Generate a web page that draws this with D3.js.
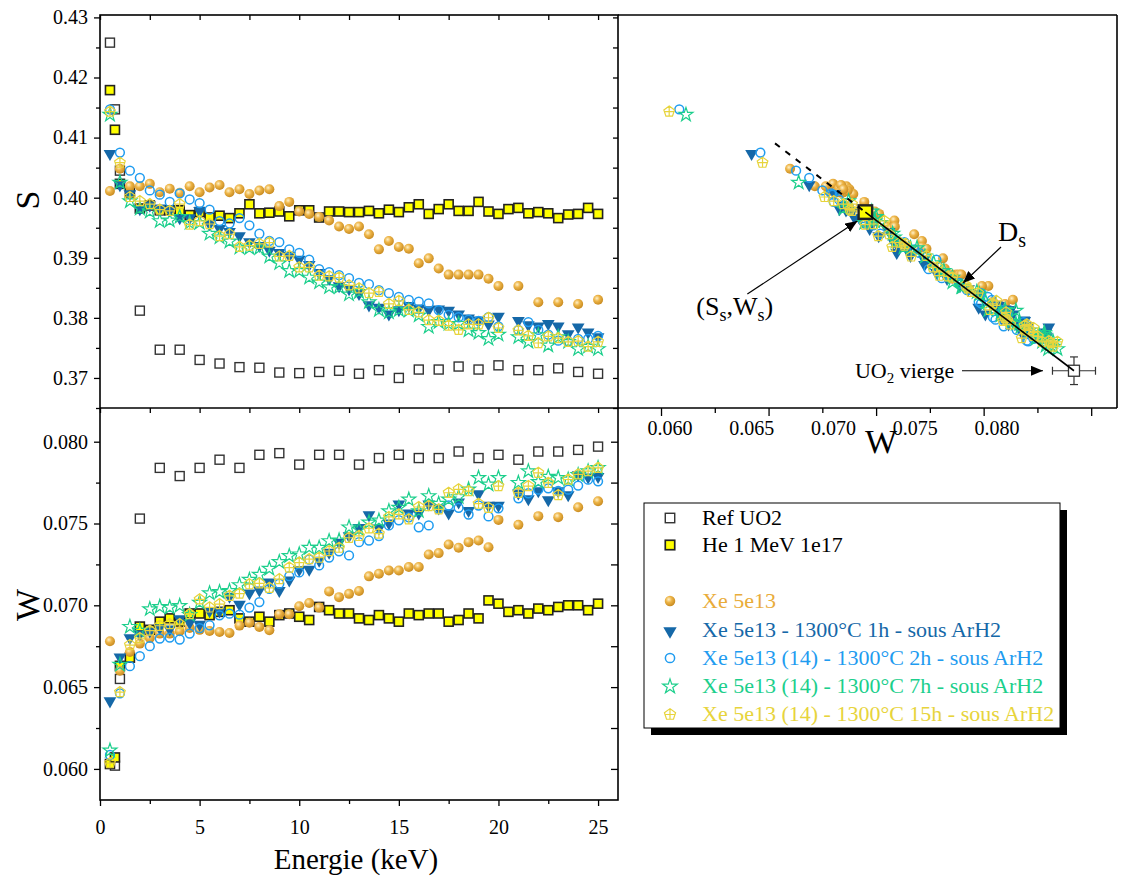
<!DOCTYPE html>
<html><head><meta charset="utf-8">
<script src="https://cdn.jsdelivr.net/npm/d3@7"></script>
<style>body{margin:0;background:#fff}svg{display:block}text{font-family:"Liberation Serif","Times New Roman",serif}</style>
</head><body><svg id="c" width="1133" height="881"></svg>
<script>
// ---------- DATA ----------
const refE=[0.5,0.75,1,2,3,4,5,6,7,8,9,10,11,12,13,14,15,16,17,18,19,20,21,22,23,24,25];
const refS=[0.4258,0.4147,0.4045,0.3812,0.3747,0.3747,0.3730,0.3724,0.3718,0.3717,0.3709,0.3708,0.3710,0.3712,0.3707,0.3713,0.3700,0.3714,0.3714,0.3719,0.3714,0.3721,0.3713,0.3713,0.3716,0.3710,0.3707];
const refW=[null,0.0602,0.0655,0.0753,0.0784,0.0779,0.0784,0.0789,0.0784,0.0792,0.0793,0.0786,0.0792,0.0792,0.0786,0.0790,0.0792,0.0790,0.0790,0.0794,0.0790,0.0792,0.0789,0.0794,0.0794,0.0795,0.0797];

const heE=[0.5,0.75,1,1.5,2,2.5,3,3.5,4,4.5,5,5.5,6,6.5,7,7.5,8,8.5,9,9.5,10,10.5,11,11.5,12,12.5,13,13.5,14,14.5,15,15.5,16,16.5,17,17.5,18,18.5,19,19.5,20,20.5,21,21.5,22,22.5,23,23.5,24,24.5,25];
const heS=[0.4179,0.4113,0.4023,0.4008,0.3982,0.3987,0.3979,0.3979,0.3979,0.3971,0.3976,0.3967,0.3970,0.3966,0.3974,0.3989,0.3974,0.3975,0.3977,0.3969,0.3979,0.3979,0.3967,0.3977,0.3977,0.3976,0.3976,0.3978,0.3974,0.3980,0.3976,0.3984,0.3989,0.3973,0.3981,0.3989,0.3978,0.3978,0.3993,0.3977,0.3973,0.3981,0.3983,0.3974,0.3976,0.3974,0.3966,0.3972,0.3973,0.3983,0.3973];
const heW=[0.0603,0.0607,0.0663,0.0668,0.0687,0.0685,0.0690,0.0692,0.0690,0.0695,0.0695,0.0694,0.0696,0.0697,0.0692,0.0690,0.0693,0.0690,0.0694,0.0695,0.0693,0.0691,0.0699,0.0697,0.0695,0.0695,0.0692,0.0691,0.0694,0.0692,0.0690,0.0695,0.0694,0.0695,0.0695,0.0690,0.0691,0.0695,0.0692,0.0703,0.0701,0.0696,0.0697,0.0695,0.0698,0.0697,0.0699,0.0700,0.0700,0.0697,0.0701];

const xeE=[0.5,1,1.5,2,2.5,3,3.5,4,4.5,5,5.5,6,6.5,7,7.5,8,8.5,9,9.5,10,10.5,11,11.5,12,12.5,13,13.5,14,14.5,15,15.5,16,16.5,17,17.5,18,18.5,19,19.5,20,20.5,21,21.5,22,22.5,23,23.5,24,24.5,25];
const xeS=[0.4011,0.4048,0.4019,0.4019,0.4023,0.4009,0.4015,0.4008,0.4019,0.4009,0.4017,0.4021,0.4009,0.4014,0.4006,0.4012,0.4014,0.3986,0.3993,0.3977,0.3973,0.3968,0.3962,0.3952,0.3948,0.3952,0.3939,0.3914,0.3928,0.3918,0.3915,0.3891,0.3899,0.3882,0.3872,0.3872,0.3872,0.3872,0.3865,0.3853,null,0.3853,null,0.3826,null,0.3826,null,0.3823,null,0.3830];
const xeW=[0.0678,0.0660,0.06715,0.06766,0.0680,0.06827,0.06827,0.06841,0.06862,0.0685,0.06843,0.06837,0.06831,0.06876,0.06894,0.06868,0.06848,0.06945,0.06945,0.06994,0.07014,0.06986,0.07085,0.0705,0.0707,0.07087,0.07177,0.07193,0.07213,0.07213,0.07234,0.07234,0.07311,0.07319,0.07372,0.07352,0.07386,0.07396,0.07355,0.07522,null,0.07492,null,0.07545,null,0.07539,null,0.07599,null,0.07636];

const x1hS=[0.4075,0.4023,0.4008,0.3983,0.3989,0.3984,0.3981,0.3968,0.3968,0.3980,0.3958,0.3950,0.3945,0.3938,0.3928,0.3922,0.3914,0.3910,0.3905,0.3899,0.3890,0.3877,0.3867,0.3855,0.3850,0.3842,0.3823,0.3819,0.3808,0.3815,0.3822,0.3818,0.3815,0.3816,0.3814,0.3808,0.3801,0.3798,0.3791,0.3804,null,0.3797,0.3790,0.3788,0.3792,0.3788,0.3775,0.3786,0.3778,0.3770];
const x1hW=[0.06421,0.06689,0.06807,0.0683,0.06848,0.06868,0.0686,0.06923,0.0690,0.06890,0.06972,0.0697,0.07061,0.07012,0.07081,0.07099,0.07148,0.07096,0.0716,0.07224,0.07225,0.0728,0.0733,0.0739,0.0743,0.0748,0.07559,0.07477,0.07508,0.07624,0.07569,0.07569,0.07624,0.0760,0.07569,0.07636,0.07585,0.07687,0.07616,0.07616,null,0.07691,0.07657,0.07705,0.0765,0.07705,0.07681,0.07803,0.0779,0.07793];

const x2hS=[0.4147,0.4075,0.4045,0.4033,0.4012,0.4005,0.3993,0.4007,0.3997,0.3991,0.3980,0.3961,0.3957,0.3966,0.3954,0.3940,0.3928,0.3926,0.3914,0.3908,0.3897,0.3881,0.3876,0.3871,0.3866,0.3858,0.3856,0.3846,0.3841,0.3835,0.3830,0.3827,0.3824,0.3813,0.3805,0.3801,0.3797,0.3795,0.3801,0.3786,null,0.3780,0.3793,0.3780,0.3772,0.3762,0.3761,0.3765,0.3765,0.3770];
const x2hW=[0.06085,0.06462,0.06628,0.06689,0.0675,0.06797,0.06803,0.06791,0.06827,0.0686,0.06878,0.06939,0.06949,0.06943,0.06986,0.0702,0.0710,0.07132,0.07178,0.07201,0.0728,0.07244,0.07292,0.0733,0.07305,0.07386,0.07396,0.07423,0.07488,0.0752,0.07538,0.07477,0.07488,0.0759,0.0761,0.07596,0.07555,0.0761,0.07543,0.07593,null,0.07654,0.07685,0.07707,0.07715,0.0770,0.07707,0.07732,0.07768,0.07758];

const x7hS=[0.4139,0.4026,0.3995,0.3983,0.3978,0.3962,0.3963,0.3969,0.3959,0.3959,0.3941,0.3935,0.3928,0.3918,0.3917,0.3917,0.3903,0.3892,0.3879,0.3879,0.3868,0.3860,0.3852,0.3852,0.3840,0.3844,0.3827,0.3814,0.3810,0.3814,0.3813,0.3805,0.3786,0.3794,0.3791,0.3791,0.3780,0.3776,0.3766,0.3773,null,0.3769,0.3761,0.3772,0.3755,0.3769,0.3761,0.3749,0.3753,0.3749];
const x7hW=[0.06116,0.0664,0.06872,0.06848,0.0698,0.06994,0.0699,0.0700,0.06945,0.0702,0.07077,0.07085,0.07091,0.07127,0.0716,0.0719,0.07227,0.07268,0.07305,0.07315,0.07355,0.07355,0.07396,0.0740,0.0748,0.07468,0.0751,0.07522,0.07579,0.0760,0.0765,0.07579,0.07671,0.07624,0.0765,0.07665,0.07712,0.07782,0.07742,0.07782,null,0.07752,0.07823,0.07758,0.07789,0.07782,0.07772,0.0780,0.07823,0.07843];

const x15hS=[0.4144,0.4059,0.4002,0.3995,0.3990,0.3981,0.3979,0.3990,0.3956,0.3962,0.3957,0.3937,0.3940,0.3919,0.3921,0.3924,0.3926,0.3903,0.3904,0.3885,0.3885,0.3871,0.3870,0.3868,0.3855,0.3850,0.3842,0.3844,0.3824,0.3829,0.3814,0.3810,0.3797,0.3796,0.3788,0.3781,0.3790,0.3790,0.3801,0.3784,null,0.3780,0.3771,0.3759,0.3770,0.3767,0.3761,0.3762,0.3753,0.3761];
const x15hW=[0.06038,0.06472,0.0676,0.06803,0.06848,0.06878,0.06888,0.06888,0.06949,0.07039,0.0699,0.0701,0.07061,0.07075,0.07132,0.07137,0.0711,0.07163,0.07234,0.07264,0.07285,0.07294,0.07335,0.07355,0.07416,0.07427,0.07474,0.07441,0.07543,0.07559,0.07529,0.07604,0.0761,0.0759,0.07691,0.07712,0.07701,0.07624,0.07599,0.07732,null,0.07691,0.07732,0.07813,0.07752,0.07677,0.07772,0.07803,0.07823,0.07843];

// reference points of the S-W plot
const viergeW=0.0792, viergeS=0.3712, viergeErrW=0.001, viergeErrS=0.0023;
const sattW=0.0695, sattS=0.3976;
const dashStartW=0.0653;

// ticks
const sTicks=[0.37,0.38,0.39,0.40,0.41,0.42,0.43];
const sMinor=[0.365,0.375,0.385,0.395,0.405,0.415,0.425];
const wTicks=[0.060,0.065,0.070,0.075,0.080];
const wMinor=[0.0625,0.0675,0.0725,0.0775];
const eTicks=[0,5,10,15,20,25];
const eMinor=[2.5,7.5,12.5,17.5,22.5];
const wTicksR=[0.060,0.065,0.070,0.075,0.080];
const wMinorR=[0.0625,0.0675,0.0725,0.0775];
const wLabelsR=["0.060","0.065","0.070","0.075","0.080"];

const legendLabels=["Ref UO2","He 1 MeV 1e17","","Xe 5e13","Xe 5e13 - 1300°C 1h - sous ArH2","Xe 5e13 (14) - 1300°C 2h - sous ArH2","Xe 5e13 (14) - 1300°C 7h - sous ArH2","Xe 5e13 (14) - 1300°C 15h - sous ArH2"];

const series=[
 {E:refE,S:refS,W:refW,sym:"sqOpen",col:"#222"},
 {E:heE,S:heS,W:heW,sym:"sqYel",col:"#111"},
 {E:xeE,S:xeS,W:xeW,sym:"ball",col:"#E9AC3A",sw:true},
 {E:xeE,S:x1hS,W:x1hW,sym:"tri",col:"#1568A8",sw:true},
 {E:xeE,S:x2hS,W:x2hW,sym:"circ",col:"#1F9CF0",sw:true},
 {E:xeE,S:x7hS,W:x7hW,sym:"star",col:"#1CCF8C",sw:true},
 {E:xeE,S:x15hS,W:x15hW,sym:"pent",col:"#E7D43C",sw:true}
];

// ---------- SCALES ----------
const svg=d3.select("#c");
const L=100,R=618,R2=1117,T=15,M=408,B=800;
const xE=d3.scaleLinear().domain([0,26]).range([L,R]);
const yS=d3.scaleLinear().domain([0.365,0.4304]).range([M,T]);
const yW=d3.scaleLinear().domain([0.0581,0.08206]).range([B,M]);
const xW=d3.scaleLinear().domain([0.058,0.0812]).range([R,R2]);
// tick labels of the S-W panel sit on their own spacing in the source figure
const xWlab=d3.scaleLinear().domain([0.060,0.080]).range([670,997]);

const defs=svg.append("defs");
const gr=defs.append("radialGradient").attr("id","ballG").attr("cx","0.38").attr("cy","0.35").attr("r","0.65");
gr.append("stop").attr("offset","0%").attr("stop-color","#FFF1C8");
gr.append("stop").attr("offset","45%").attr("stop-color","#EDB446");
gr.append("stop").attr("offset","100%").attr("stop-color","#C98C22");
const mk=defs.append("marker").attr("id","arr").attr("viewBox","0 0 12 10").attr("refX",12).attr("refY",5)
 .attr("markerWidth",12).attr("markerHeight",10).attr("markerUnits","userSpaceOnUse").attr("orient","auto");
mk.append("path").attr("d","M0,0L12,5L0,10Z").attr("fill","#000");
const cp=defs.append("clipPath").attr("id","cpTL");cp.append("rect").attr("x",L).attr("y",T).attr("width",R-L).attr("height",M-T);
const cp2=defs.append("clipPath").attr("id","cpBL");cp2.append("rect").attr("x",L).attr("y",M).attr("width",R-L).attr("height",B-M);
const cp3=defs.append("clipPath").attr("id","cpTR");cp3.append("rect").attr("x",R).attr("y",T).attr("width",R2-R).attr("height",M-T);

function pentPath(r){
  const p=d3.range(5).map(k=>{const a=(-90+72*k)*Math.PI/180;return [r*Math.cos(a),r*Math.sin(a)];});
  return "M"+p.map(d=>d.join(",")).join("L")+"Z"+"M0,"+(-r)+"L0,"+(0.81*r)+"M"+(-0.85*r)+",0L"+(0.85*r)+",0";
}
function drawMarker(g,sym,x,y,col,scale){
  const s=scale||1;
  if(sym==="sqOpen"){const a=9*s;g.append("rect").attr("x",x-a/2).attr("y",y-a/2).attr("width",a).attr("height",a).attr("fill","none").attr("stroke","#333").attr("stroke-width",1.4);}
  else if(sym==="sqYel"){const a=9*s;g.append("rect").attr("x",x-a/2).attr("y",y-a/2).attr("width",a).attr("height",a).attr("fill","#FFFF00").attr("stroke","#222").attr("stroke-width",1.6*s);}
  else if(sym==="ball"){g.append("circle").attr("cx",x).attr("cy",y).attr("r",5*s).attr("fill","url(#ballG)");}
  else if(sym==="tri"){g.append("path").attr("d",d3.symbol(d3.symbolTriangle,70*s*s)()).attr("transform",`translate(${x},${y+1})rotate(180)`).attr("fill",col);}
  else if(sym==="circ"){g.append("circle").attr("cx",x).attr("cy",y).attr("r",4.4*s).attr("fill","none").attr("stroke",col).attr("stroke-width",1.5);}
  else if(sym==="star"){g.append("path").attr("d",d3.symbol(d3.symbolStar,60*s*s)()).attr("transform",`translate(${x},${y+0.5})`).attr("fill","none").attr("stroke",col).attr("stroke-width",1.2);}
  else if(sym==="pent"){g.append("path").attr("d",pentPath(5.6*s)).attr("transform",`translate(${x},${y+0.5})`).attr("fill","none").attr("stroke",col).attr("stroke-width",1.2);}
}

// ---------- LEFT PANELS ----------
const gTL=svg.append("g").attr("clip-path","url(#cpTL)");
const gBL=svg.append("g").attr("clip-path","url(#cpBL)");
series.forEach(s=>{
  s.E.forEach((e,i)=>{
    if(s.S[i]!=null) drawMarker(gTL,s.sym,xE(e),yS(s.S[i]),s.col);
    if(s.W[i]!=null) drawMarker(gBL,s.sym,xE(e),yW(s.W[i]),s.col);
  });
});

// ---------- TOP RIGHT PANEL ----------
const gTR=svg.append("g").attr("clip-path","url(#cpTR)");
series.filter(s=>s.sw).forEach(s=>{
  s.E.forEach((e,i)=>{ if(s.S[i]!=null&&s.W[i]!=null) drawMarker(gTR,s.sym,xW(s.W[i]),yS(s.S[i]),s.col); });
});
drawMarker(gTR,"sqYel",xW(sattW),yS(sattS),"#000",1.5);
const vx=xW(viergeW),vy=yS(viergeS);
const eb=gTR.append("g").attr("stroke","#333").attr("stroke-width",1.2);
eb.append("line").attr("x1",xW(viergeW-viergeErrW)).attr("x2",xW(viergeW+viergeErrW)).attr("y1",vy).attr("y2",vy);
eb.append("line").attr("x1",vx).attr("x2",vx).attr("y1",yS(viergeS-viergeErrS)).attr("y2",yS(viergeS+viergeErrS));
[xW(viergeW-viergeErrW),xW(viergeW+viergeErrW)].forEach(x=>eb.append("line").attr("x1",x).attr("x2",x).attr("y1",vy-4).attr("y2",vy+4));
[yS(viergeS-viergeErrS),yS(viergeS+viergeErrS)].forEach(y=>eb.append("line").attr("x1",vx-4).attr("x2",vx+4).attr("y1",y).attr("y2",y));
gTR.append("rect").attr("x",vx-5.5).attr("y",vy-5.5).attr("width",11).attr("height",11).attr("fill","#fff").attr("stroke","#333").attr("stroke-width",1.3);
const slope=(viergeS-sattS)/(viergeW-sattW);
svg.append("line").attr("x1",xW(dashStartW)).attr("y1",yS(sattS+slope*(dashStartW-sattW))).attr("x2",xW(sattW)).attr("y2",yS(sattS))
  .attr("stroke","#000").attr("stroke-width",2).attr("stroke-dasharray","6,7");
svg.append("line").attr("x1",xW(sattW)).attr("y1",yS(sattS)).attr("x2",vx).attr("y2",vy).attr("stroke","#000").attr("stroke-width",1.6);
// annotations
const hx=xW(sattW),hy=yS(sattS);
svg.append("line").attr("x1",hx-118).attr("y1",hy+82).attr("x2",hx-8).attr("y2",hy+9).attr("stroke","#000").attr("stroke-width",1.2).attr("marker-end","url(#arr)");
const t1=svg.append("text").attr("x",hx-169).attr("y",hy+103).attr("font-size",26);
t1.append("tspan").text("(S");t1.append("tspan").attr("font-size",18).attr("dy",6).text("s");
t1.append("tspan").attr("dy",-6).text(",W");t1.append("tspan").attr("font-size",18).attr("dy",6).text("s");t1.append("tspan").attr("dy",-6).text(")");
svg.append("line").attr("x1",1001).attr("y1",247).attr("x2",963).attr("y2",283).attr("stroke","#000").attr("stroke-width",1.2).attr("marker-end","url(#arr)");
const t2=svg.append("text").attr("x",998).attr("y",241).attr("font-size",28);
t2.append("tspan").text("D");t2.append("tspan").attr("font-size",20).attr("dy",6).text("s");
svg.append("line").attr("x1",vx-112).attr("y1",vy).attr("x2",vx-31).attr("y2",vy).attr("stroke","#000").attr("stroke-width",1.2).attr("marker-end","url(#arr)");
const t3=svg.append("text").attr("x",vx-219).attr("y",vy+7).attr("font-size",22);
t3.append("tspan").text("UO");t3.append("tspan").attr("font-size",15).attr("dy",5).text("2");t3.append("tspan").attr("dy",-5).text(" vierge");

// ---------- AXES ----------
function styleAx(g){g.select(".domain").remove();g.selectAll("line").attr("stroke","#000").attr("stroke-width",1.3);
  g.selectAll("text").attr("font-size",20).attr("fill","#000").style("font-family",'"Liberation Serif","Times New Roman",serif');g.attr("font-family",null);}
svg.append("g").attr("transform",`translate(${L},0)`).call(d3.axisLeft(yS).tickValues(sTicks).tickSize(6).tickPadding(6).tickFormat(d3.format(".2f"))).call(styleAx);
svg.append("g").attr("transform",`translate(${L},0)`).call(d3.axisLeft(yS).tickValues(sMinor).tickSize(4).tickFormat("")).call(styleAx);
svg.append("g").attr("transform",`translate(${R},0)`).call(d3.axisLeft(yS).tickValues(sTicks.concat(sMinor)).tickSize(5).tickFormat("")).call(styleAx);
svg.append("g").attr("transform",`translate(${L},0)`).call(d3.axisLeft(yW).tickValues(wTicks).tickSize(6).tickPadding(6).tickFormat(d3.format(".3f"))).call(styleAx);
svg.append("g").attr("transform",`translate(${L},0)`).call(d3.axisLeft(yW).tickValues(wMinor).tickSize(4).tickFormat("")).call(styleAx);
svg.append("g").attr("transform",`translate(${R},0)`).call(d3.axisLeft(yW).tickValues(wTicks.concat(wMinor)).tickSize(7).tickFormat("")).call(styleAx);
svg.append("g").attr("transform",`translate(0,${B})`).call(d3.axisBottom(xE).tickValues(eTicks).tickSize(6).tickPadding(14).tickFormat(d3.format("d"))).call(styleAx);
svg.append("g").attr("transform",`translate(0,${B})`).call(d3.axisBottom(xE).tickValues(eMinor).tickSize(4).tickFormat("")).call(styleAx);
[T,M].forEach(y=>svg.append("g").attr("transform",`translate(0,${y})`).call(d3.axisTop(xE).tickValues(eTicks.concat(eMinor)).tickSize(-5).tickFormat("")).call(styleAx));
svg.append("g").attr("transform",`translate(0,${M})`).call(d3.axisBottom(xW).tickValues(wTicksR).tickSize(8).tickFormat("")).call(styleAx);
svg.append("g").attr("transform",`translate(0,${M})`).call(d3.axisBottom(xW).tickValues(wMinorR).tickSize(5).tickFormat("")).call(styleAx);
svg.append("g").selectAll("text").data(wTicksR).join("text").attr("x",d=>xWlab(d)).attr("y",M+27).attr("text-anchor","middle")
  .attr("font-size",20).text((d,i)=>wLabelsR[i]);

// frames
const fr=svg.append("g").attr("fill","none").attr("stroke","#000").attr("stroke-width",1.6);
fr.append("rect").attr("x",L).attr("y",T).attr("width",R-L).attr("height",B-T);
fr.append("line").attr("x1",L).attr("x2",R2).attr("y1",M).attr("y2",M);
fr.append("line").attr("x1",R).attr("x2",R2).attr("y1",T).attr("y2",T);
fr.append("line").attr("x1",R2).attr("x2",R2).attr("y1",T).attr("y2",M);

// titles
svg.append("text").attr("transform","translate(39,200)rotate(-90)").attr("text-anchor","middle").attr("font-size",34).text("S");
svg.append("text").attr("transform","translate(39,605)rotate(-90)").attr("text-anchor","middle").attr("font-size",34).text("W");
svg.append("text").attr("x",356).attr("y",869).attr("text-anchor","middle").attr("font-size",29).text("Energie (keV)");
svg.append("text").attr("x",881).attr("y",453).attr("text-anchor","middle").attr("font-size",34).text("W");

// ---------- LEGEND ----------
const lg=svg.append("g");
lg.append("rect").attr("x",651).attr("y",510).attr("width",416).attr("height",225).attr("fill","#000");
lg.append("rect").attr("x",644).attr("y",503).attr("width",416).attr("height",225).attr("fill","#fff").attr("stroke","#000").attr("stroke-width",1);
const lgY=[518,545,572,601,630,658,686,714];
const lgCols=["#000","#000",null,"#E9AC3A","#1568A8","#1F9CF0","#1CCF8C","#E7D43C"];
const lgSeries=[0,1,null,2,3,4,5,6];
legendLabels.forEach((lab,i)=>{
  if(lgSeries[i]==null) return;
  const s=series[lgSeries[i]];
  drawMarker(lg,s.sym,670,lgY[i],s.col,1.05);
  lg.append("text").attr("x",702).attr("y",lgY[i]+7).attr("font-size",22).attr("fill",lgCols[i]).text(lab);
});
</script></body></html>
